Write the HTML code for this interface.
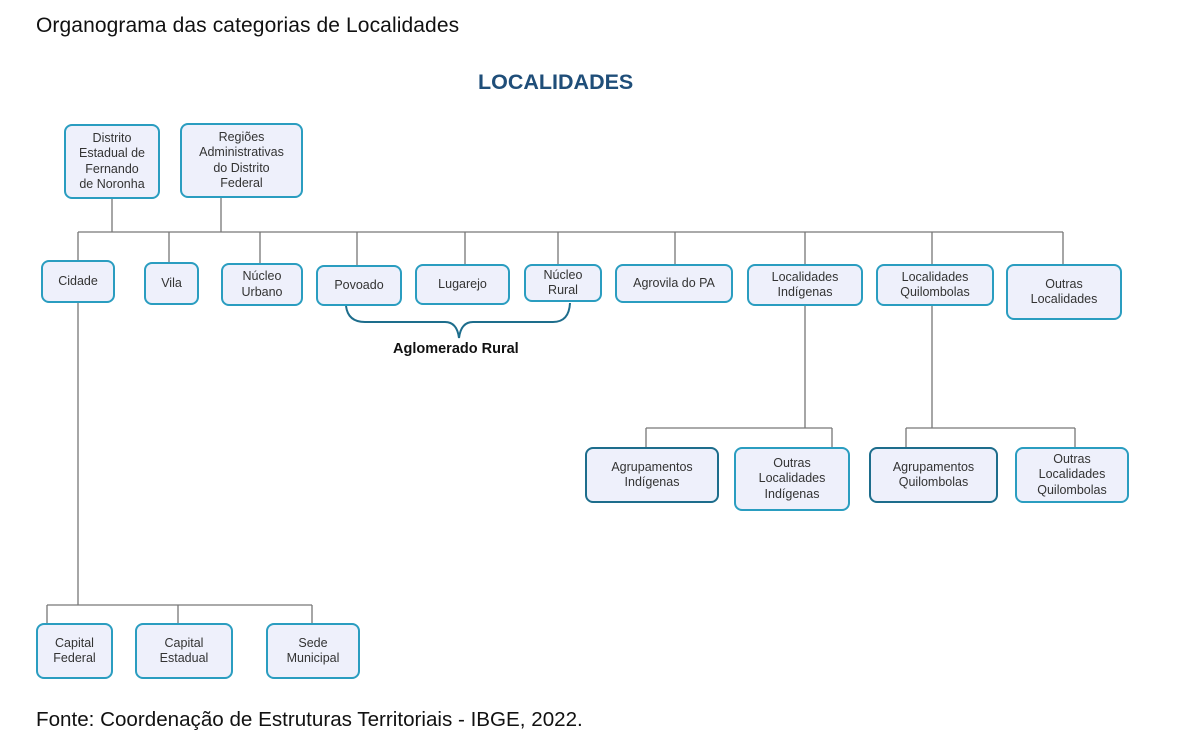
<!DOCTYPE html>
<html><head><meta charset="utf-8"><style>
body{margin:0;width:1200px;height:754px;background:#fff;position:relative;overflow:hidden;font-family:"Liberation Sans",sans-serif;color:#222}
.b{position:absolute;box-sizing:border-box;border:2px solid #2a9dc0;border-radius:8px;background:#eef0fb;display:flex;align-items:center;justify-content:center;text-align:center;font-size:12.5px;line-height:15.5px;color:#333}
.d{border-color:#1d6d8c}
.t{position:absolute;white-space:nowrap}
svg{position:absolute;left:0;top:0}
</style></head><body>
<div class="t" style="left:36px;top:14px;font-size:21px;letter-spacing:0.1px;color:#111">Organograma das categorias de Localidades</div>
<div class="t" style="left:478px;top:70px;font-size:21.5px;font-weight:bold;color:#1f4e79">LOCALIDADES</div>
<svg width="1200" height="754">
<g stroke="#777" stroke-width="1.3" fill="none">
<path d="M78 232H1063M112 199V232M221 198V232"/>
<path d="M78 232V260M169 232V262M260 232V263M357 232V265M465 232V264M558 232V264M675 232V264M805 232V264M932 232V264M1063 232V264"/>
<path d="M78 303V605M47 605H312M47 605V623M178 605V623M312 605V623"/>
<path d="M805 306V428M646 428H832M646 428V447M832 428V447"/>
<path d="M932 306V428M906 428H1075M906 428V447M1075 428V447"/>
</g>
<path d="M346 306 Q348 322 365 322 H445 Q457 322 459 338 Q461 322 473 322 H553 Q569 322 570 303" stroke="#1d6d8c" stroke-width="2" fill="none"/>
</svg>
<div class="t" style="left:393px;top:341px;font-size:14.5px;font-weight:bold;color:#111">Aglomerado Rural</div>
<div class="b" style="left:64px;top:124px;width:96px;height:75px">Distrito<br>Estadual de<br>Fernando<br>de Noronha</div>
<div class="b" style="left:180px;top:123px;width:123px;height:75px">Regiões<br>Administrativas<br>do Distrito<br>Federal</div>
<div class="b" style="left:41px;top:260px;width:74px;height:43px">Cidade</div>
<div class="b" style="left:144px;top:262px;width:55px;height:43px">Vila</div>
<div class="b" style="left:221px;top:263px;width:82px;height:43px">Núcleo<br>Urbano</div>
<div class="b" style="left:316px;top:265px;width:86px;height:41px">Povoado</div>
<div class="b" style="left:415px;top:264px;width:95px;height:41px">Lugarejo</div>
<div class="b" style="left:524px;top:264px;width:78px;height:38px">Núcleo<br>Rural</div>
<div class="b" style="left:615px;top:264px;width:118px;height:39px">Agrovila do PA</div>
<div class="b" style="left:747px;top:264px;width:116px;height:42px">Localidades<br>Indígenas</div>
<div class="b" style="left:876px;top:264px;width:118px;height:42px">Localidades<br>Quilombolas</div>
<div class="b" style="left:1006px;top:264px;width:116px;height:56px">Outras<br>Localidades</div>
<div class="b" style="left:36px;top:623px;width:77px;height:56px">Capital<br>Federal</div>
<div class="b" style="left:135px;top:623px;width:98px;height:56px">Capital<br>Estadual</div>
<div class="b" style="left:266px;top:623px;width:94px;height:56px">Sede<br>Municipal</div>
<div class="b d" style="left:585px;top:447px;width:134px;height:56px">Agrupamentos<br>Indígenas</div>
<div class="b" style="left:734px;top:447px;width:116px;height:64px">Outras<br>Localidades<br>Indígenas</div>
<div class="b d" style="left:869px;top:447px;width:129px;height:56px">Agrupamentos<br>Quilombolas</div>
<div class="b" style="left:1015px;top:447px;width:114px;height:56px">Outras<br>Localidades<br>Quilombolas</div>
<div class="t" style="left:36px;top:708px;font-size:20.6px;color:#111">Fonte: Coordenação de Estruturas Territoriais - IBGE, 2022.</div>
</body></html>
